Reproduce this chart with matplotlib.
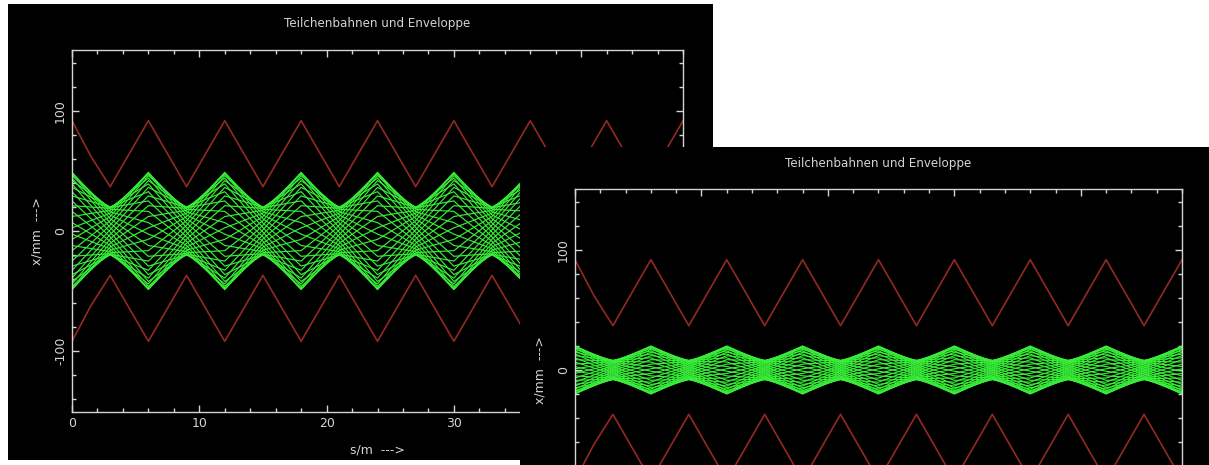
import matplotlib.pyplot as plt
from matplotlib.patches import Rectangle
from matplotlib.ticker import MultipleLocator, FixedLocator

plt.rcParams['axes.unicode_minus'] = False

title = "Teilchenbahnen und Enveloppe"
xlabel = "s/m  --->"
ylabel = "x/mm  --->"

# quadrupole positions along the line (thin lenses, F at 0, 6, 12 ..., D at 3, 9, ...)
node_s = [0, 3, 6, 9, 12, 15, 18, 21, 24, 27, 30, 33, 36, 39, 42, 45, 48]

# aperture (red)
aperture_s = [0, 1.5, 3, 6, 9, 12, 15, 18, 21, 24, 27, 30, 33, 36, 39, 42, 45, 48]
aperture_upper = [92, 62, 37, 92, 37, 92, 37, 92, 37, 92, 37, 92, 37, 92, 37, 92, 37, 92]
aperture_lower = [-92, -62, -37, -92, -37, -92, -37, -92, -37, -92, -37, -92, -37, -92, -37, -92, -37, -92]

# positions (mm) at which the particles cross the quads, one entry per phase slot
left_focus_levels = [48.9, 47.5, 44.2, 39.3, 32.8, 25.1, 16.4, 7.0, -2.6, -12.1, -21.1, -29.3,
                     -36.4, -42.1, -46.2, -48.5, -48.9, -47.5, -44.2, -39.3, -32.8, -25.1, -16.4,
                     -7.0, 2.6, 12.1, 21.1, 29.3, 36.4, 42.1, 46.2, 48.5]
left_defocus_levels = [20.0, 19.4, 18.1, 16.0, 13.4, 10.2, 6.7, 2.9, -1.0, -4.9, -8.6, -12.0,
                       -14.9, -17.2, -18.9, -19.8, -20.0, -19.4, -18.1, -16.0, -13.4, -10.2, -6.7,
                       -2.9, 1.0, 4.9, 8.6, 12.0, 14.9, 17.2, 18.9, 19.8]
right_focus_levels = [20.0, 19.4, 18.1, 16.0, 13.4, 10.2, 6.7, 2.9, -1.0, -4.9, -8.6, -12.0,
                      -14.9, -17.2, -18.9, -19.8, -20.0, -19.4, -18.1, -16.0, -13.4, -10.2, -6.7,
                      -2.9, 1.0, 4.9, 8.6, 12.0, 14.9, 17.2, 18.9, 19.8]
right_defocus_levels = [8.0, 7.8, 7.2, 6.4, 5.4, 4.1, 2.7, 1.1, -0.4, -2.0, -3.4, -4.8,
                        -5.9, -6.9, -7.5, -7.9, -8.0, -7.8, -7.2, -6.4, -5.4, -4.1, -2.7,
                        -1.1, 0.4, 2.0, 3.4, 4.8, 5.9, 6.9, 7.5, 7.9]
phase_step = 4  # slots moved per half cell (90 deg per cell)

left_yticks = [-100, 0, 100]
right_yticks = [0, 100]  # -100 lies below the visible part of the second panel

W, H = 1209, 465
fg = '#d4d4d4'
green = '#38ee38'
red = '#932a22'


def px_rect(x0, y0, x1, y1):
    # pixel box (top-left origin) -> figure fraction rect
    return [x0 / W, (H - y1) / H, (x1 - x0) / W, (y1 - y0) / H]


def draw_panel(fig, bg_box, ax_box, focus, defocus, yticks, z, show_x=True):
    r = px_rect(*bg_box)
    fig.add_artist(Rectangle((r[0], r[1]), r[2], r[3], transform=fig.transFigure,
                             facecolor='black', edgecolor='none', zorder=z))
    ax = fig.add_axes(px_rect(*ax_box))
    ax.set_zorder(z + 1)
    ax.set_facecolor('black')

    for k in range(len(focus)):
        x = [(focus if n % 2 == 0 else defocus)[(k + phase_step * n) % len(focus)]
             for n in range(len(node_s))]
        ax.plot(node_s, x, color=green, lw=0.85)
    ax.plot(aperture_s, aperture_upper, color=red, lw=1.2)
    ax.plot(aperture_s, aperture_lower, color=red, lw=1.2)

    ax.set_xlim(0, 48)
    ax.set_ylim(-151, 151)
    ax.xaxis.set_major_locator(MultipleLocator(10))
    ax.xaxis.set_minor_locator(MultipleLocator(2))
    ax.yaxis.set_major_locator(FixedLocator(yticks))
    ax.yaxis.set_minor_locator(MultipleLocator(20))
    ax.tick_params(which='both', direction='in', top=True, right=True, colors=fg,
                   labelsize=9, width=1, labelbottom=show_x)
    ax.tick_params(which='major', length=5)
    ax.tick_params(which='minor', length=3)
    for lab in ax.get_yticklabels():
        lab.set_rotation(90)
        lab.set_va('center')
    for sp in ax.spines.values():
        sp.set_color(fg)
        sp.set_linewidth(1)
    ax.text(0.5, 1 + 26 / 362, title, transform=ax.transAxes, ha='center', va='center',
            color=fg, fontsize=8.6)
    if show_x:
        ax.set_xlabel(xlabel, color=fg, fontsize=9, labelpad=10)
    ax.set_ylabel(ylabel, color=fg, fontsize=9, labelpad=8)
    return ax


fig = plt.figure(figsize=(W / 100, H / 100), dpi=100, facecolor='white')
draw_panel(fig, (8, 4, 713, 460), (72, 50, 683, 412), left_focus_levels, left_defocus_levels,
           left_yticks, 0)
draw_panel(fig, (520, 147, 1209, 465), (575, 189, 1182, 551), right_focus_levels,
           right_defocus_levels, right_yticks, 2, show_x=False)
fig.savefig('out.png', dpi=100, facecolor='white')
